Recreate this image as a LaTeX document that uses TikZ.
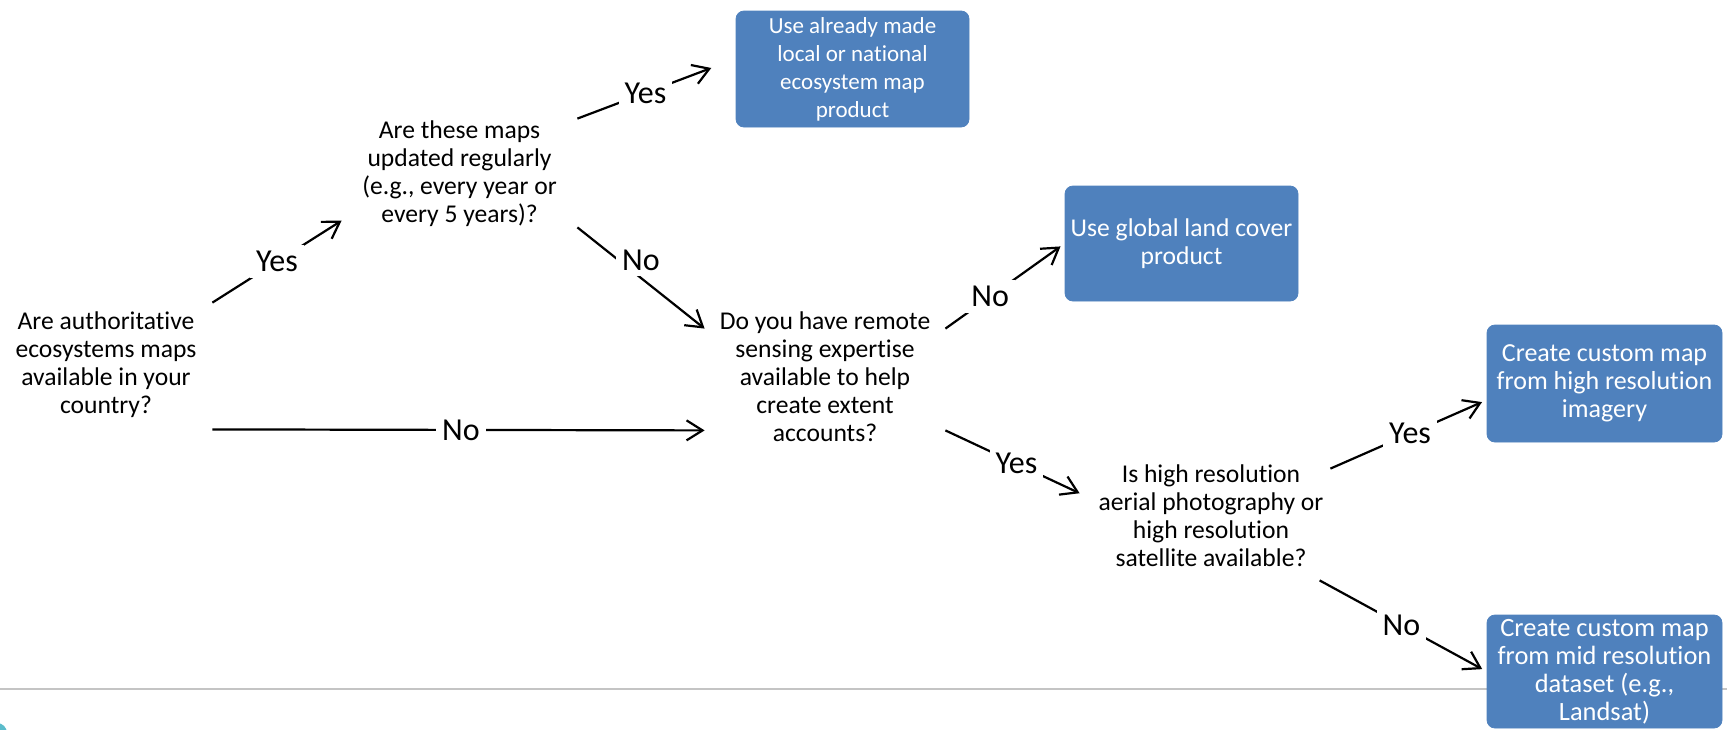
\documentclass[tikz,border=0pt]{standalone}
\usepackage{fontspec}
\setmainfont{Carlito}[Ligatures={NoCommon,NoContextual}]
\usetikzlibrary{arrows.meta}
\definecolor{boxblue}{HTML}{4F81BD}
\definecolor{rulegray}{HTML}{C4C4C4}
\definecolor{tealc}{HTML}{5BBCCB}
\newcommand{\qtext}[2][3pt]{\smash{\lower#1\hbox{\begin{tabular}{@{}c@{}}#2\end{tabular}}}}
\begin{document}
\begin{tikzpicture}[x=0.5pt,y=-0.5pt,
  q/.style={inner sep=0pt, font=\fontsize{12.8}{14}\selectfont, text=black},
  outbox/.style={fill=boxblue, draw=boxblue, rounded corners=4pt, text=white, align=center, inner sep=0pt},
  lbl/.style={fill=white, inner sep=3pt, font=\fontsize{16}{18}\selectfont, text=black},
  arr/.style={-{Straight Barb[length=8pt,width=10pt]}, line width=1.1pt, black}]
\useasboundingbox (0,0) rectangle (1727,729);
% bottom rule and corner mark
\draw[rulegray, line width=1pt] (0,689) -- (1727,689);
\fill[tealc] (-3,733) circle[radius=5pt];
% question nodes
\node[q, minimum width=106pt, minimum height=63pt] (q1) at (106,366)
  {\qtext{Are authoritative\\ecosystems maps\\available in your\\country?}};
\node[q, minimum width=117.5pt, minimum height=54pt] (q2) at (459.5,173)
  {\qtext[4pt]{Are these maps\\updated regularly\\(e.g., every year or\\every 5 years)?}};
\node[q, minimum width=120pt, minimum height=50.5pt] (q3) at (825,379.5)
  {\qtext{Do you have remote\\sensing expertise\\available to help\\create extent\\accounts?}};
\node[q, minimum width=125pt, minimum height=55.5pt] (q4) at (1205,524.5)
  {\hspace*{6pt}\qtext[0pt]{Is high resolution\\aerial photography or\\high resolution\\satellite available?}};
% outcome boxes
\node[outbox, minimum width=116.5pt, minimum height=58pt, font=\fontsize{11.5}{14}\selectfont] (b1) at (852.5,69)
  {Use already made\\local or national\\ecosystem map\\product};
\node[outbox, minimum width=116.5pt, minimum height=57.5pt, font=\fontsize{12.8}{14}\selectfont] (b2) at (1181.5,243.5)
  {Use global land cover\\product};
\node[outbox, minimum width=117.5pt, minimum height=58.5pt, font=\fontsize{13}{14}\selectfont] (b3) at (1604.5,383.5)
  {Create custom map\\from high resolution\\imagery};
\node[outbox, minimum width=117.5pt, minimum height=56.5pt, font=\fontsize{13.2}{14}\selectfont] (b4) at (1604.5,671.5)
  {Create custom map\\from mid resolution\\dataset (e.g.,\\Landsat)};
% connectors
\draw[arr] (q1.north east) -- node[lbl, pos=.5]{Yes} (q2.202);
\draw[arr] (q1.south east) -- node[lbl, pos=.505]{No} (q3.south west);
\draw[arr, shorten >=13pt] (q2.north east) -- node[lbl, pos=.43]{Yes} (b1.175);
\draw[arr] (q2.south east) -- node[lbl, pos=.5, yshift=9pt]{No} (q3.north west);
\draw[arr, shorten >=2.5pt] (q3.north east) -- node[lbl, pos=.375]{No} (b2.west);
\draw[arr] (q3.south east) -- node[lbl, pos=.53]{Yes} (q4.166);
\draw[arr, shorten >=2.5pt] (q4.north east) -- node[lbl, pos=.51]{Yes} (b3.188);
\draw[arr, shorten >=2.5pt] (q4.334) -- node[lbl, pos=.49]{No} (b4.west);
\end{tikzpicture}
\end{document}
